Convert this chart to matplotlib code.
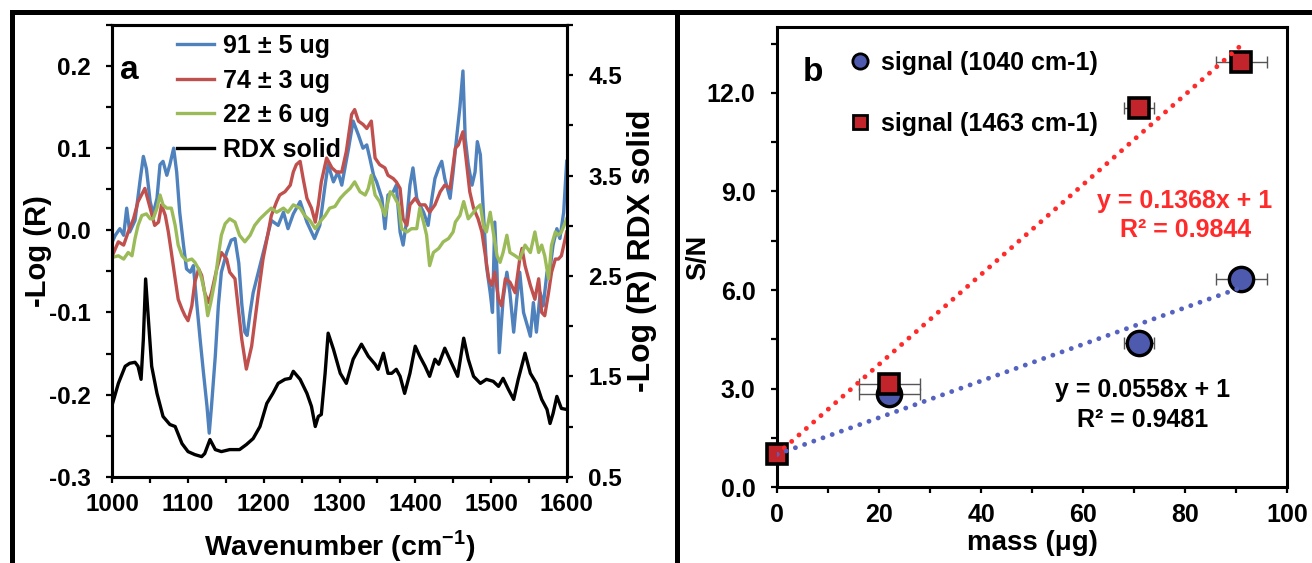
import matplotlib
matplotlib.use("Agg")
import matplotlib.pyplot as plt
import numpy as np
from matplotlib.lines import Line2D

plt.rcParams['font.family'] = ['Liberation Sans', 'DejaVu Sans']
plt.rcParams['font.weight'] = 'bold'
plt.rcParams['axes.unicode_minus'] = False
plt.rcParams['mathtext.fontset'] = 'custom'
plt.rcParams['mathtext.rm'] = 'Liberation Sans:bold'
plt.rcParams['mathtext.bf'] = 'Liberation Sans:bold'

# ---- panel a: spectra ----
BLUE_WN = [1000, 1004, 1010, 1015, 1019, 1023, 1030, 1037, 1041, 1045, 1050, 1054, 1059, 1063, 1067,
           1072, 1076, 1081, 1085, 1089, 1094, 1098, 1103, 1107, 1111, 1116, 1120, 1125, 1128, 1131,
           1136, 1140, 1144, 1151, 1157, 1162, 1167, 1171, 1175, 1178, 1182, 1186, 1195, 1204, 1210,
           1219, 1226, 1232, 1239, 1248, 1257, 1267, 1274, 1281, 1285, 1292, 1298, 1303, 1312, 1318,
           1325, 1331, 1336, 1340, 1345, 1349, 1356, 1360, 1364, 1371, 1375, 1380, 1384, 1389, 1393,
           1397, 1402, 1406, 1411, 1417, 1422, 1426, 1431, 1435, 1439, 1446, 1450, 1455, 1459, 1463,
           1466, 1470, 1475, 1479, 1482, 1486, 1490, 1494, 1499, 1502, 1505, 1508, 1511, 1516, 1521,
           1525, 1530, 1534, 1538, 1543, 1548, 1552, 1556, 1560, 1565, 1569, 1574, 1578, 1582, 1587,
           1591, 1596, 1600]
BLUE_V = [-0.014, -0.006, 0.002, -0.006, 0.027, -0.002, 0.012, 0.063, 0.090, 0.075, 0.035, 0.020, 0.039, 0.080, 0.084,
          0.067, 0.080, 0.100, 0.071, 0.022, -0.018, -0.047, -0.051, -0.043, -0.084, -0.133, -0.170, -0.214, -0.247, -0.214,
          -0.153, -0.092, -0.051, -0.027, -0.012, -0.010, -0.040, -0.090, -0.124, -0.128, -0.100, -0.076, -0.043, -0.010, 0.012,
          0.006, 0.022, 0.002, 0.020, 0.035, 0.010, -0.010, 0.006, 0.055, 0.080, 0.059, 0.071, 0.055, 0.100, 0.133,
          0.116, 0.100, 0.104, 0.088, 0.067, 0.059, 0.039, 0.002, 0.043, 0.047, 0.055, -0.002, -0.018, 0.014, 0.055,
          0.076, 0.039, 0.031, 0.022, 0.006, 0.039, 0.063, 0.076, 0.084, 0.063, 0.039, 0.071, 0.116, 0.150, 0.194,
          0.112, 0.080, 0.055, 0.071, 0.108, 0.092, 0.022, -0.043, -0.076, -0.100, 0.010, -0.051, -0.149, -0.084, -0.051,
          -0.076, -0.124, -0.084, -0.051, -0.100, -0.116, -0.129, -0.088, -0.124, -0.076, -0.092, -0.051, -0.047, -0.018, 0.002,
          -0.010, 0.022, 0.084]

RED_WN = [1000, 1008, 1015, 1021, 1028, 1034, 1043, 1050, 1056, 1061, 1065, 1070, 1074, 1078, 1083,
          1087, 1092, 1096, 1100, 1105, 1109, 1114, 1118, 1122, 1127, 1131, 1138, 1144, 1151, 1155,
          1162, 1166, 1171, 1177, 1184, 1188, 1193, 1199, 1206, 1210, 1217, 1221, 1228, 1235, 1239,
          1243, 1248, 1252, 1257, 1263, 1268, 1272, 1276, 1283, 1290, 1296, 1303, 1309, 1316, 1320,
          1325, 1331, 1336, 1342, 1347, 1353, 1360, 1364, 1371, 1375, 1380, 1384, 1389, 1393, 1400,
          1406, 1413, 1419, 1426, 1433, 1439, 1446, 1453, 1457, 1463, 1468, 1472, 1477, 1483, 1488,
          1492, 1497, 1501, 1505, 1510, 1514, 1519, 1525, 1532, 1538, 1541, 1545, 1552, 1558, 1563,
          1567, 1571, 1576, 1580, 1585, 1589, 1593, 1600]
RED_V = [-0.031, -0.014, -0.018, -0.002, 0.014, 0.035, 0.051, 0.027, 0.006, 0.010, 0.031, 0.018, -0.002, -0.027, -0.059,
         -0.084, -0.096, -0.104, -0.110, -0.092, -0.063, -0.047, -0.055, -0.076, -0.088, -0.076, -0.047, -0.027, -0.035, -0.051,
         -0.059, -0.092, -0.133, -0.169, -0.141, -0.112, -0.076, -0.035, -0.002, 0.018, 0.035, 0.043, 0.047, 0.055, 0.071,
         0.080, 0.084, 0.063, 0.039, 0.027, 0.010, 0.031, 0.059, 0.088, 0.076, 0.071, 0.071, 0.096, 0.141, 0.147,
         0.133, 0.129, 0.124, 0.133, 0.088, 0.080, 0.076, 0.067, 0.063, 0.059, 0.051, 0.014, 0.006, 0.031, 0.039,
         0.031, 0.031, 0.022, 0.031, 0.047, 0.055, 0.051, 0.100, 0.104, 0.120, 0.080, 0.047, 0.027, 0.014, -0.002,
         -0.027, -0.059, -0.067, -0.051, -0.084, -0.092, -0.059, -0.063, -0.076, -0.035, -0.022, -0.043, -0.067, -0.084, -0.059,
         -0.100, -0.104, -0.076, -0.051, -0.035, -0.035, -0.031, -0.002]

GREEN_WN = [1000, 1008, 1015, 1021, 1026, 1030, 1034, 1039, 1045, 1050, 1054, 1059, 1063, 1067, 1072,
            1078, 1083, 1087, 1092, 1098, 1105, 1109, 1114, 1118, 1122, 1126, 1130, 1136, 1140, 1144,
            1149, 1155, 1162, 1168, 1175, 1182, 1188, 1195, 1204, 1210, 1217, 1226, 1232, 1239, 1248,
            1254, 1261, 1268, 1274, 1281, 1287, 1294, 1301, 1307, 1314, 1320, 1327, 1334, 1338, 1342,
            1347, 1353, 1360, 1367, 1371, 1378, 1382, 1389, 1395, 1402, 1406, 1411, 1415, 1419, 1424,
            1431, 1437, 1444, 1450, 1453, 1459, 1464, 1470, 1477, 1481, 1486, 1490, 1494, 1499, 1503,
            1508, 1512, 1516, 1521, 1525, 1532, 1538, 1545, 1552, 1558, 1563, 1567, 1571, 1576, 1580,
            1585, 1589, 1593, 1600]
GREEN_V = [-0.033, -0.031, -0.035, -0.027, -0.031, -0.010, 0.006, 0.018, 0.020, 0.014, 0.014, 0.027, 0.043, 0.031, 0.027,
           0.027, 0.006, -0.018, -0.031, -0.037, -0.035, -0.039, -0.047, -0.059, -0.076, -0.104, -0.088, -0.059, -0.031, -0.006,
           0.008, 0.014, 0.010, -0.006, -0.014, -0.006, 0.006, 0.014, 0.022, 0.027, 0.022, 0.027, 0.022, 0.031, 0.027,
           0.018, 0.012, 0.002, 0.010, 0.018, 0.027, 0.029, 0.039, 0.045, 0.051, 0.059, 0.047, 0.043, 0.051, 0.067,
           0.043, 0.035, 0.018, 0.047, 0.043, 0.031, 0.002, -0.002, 0.002, 0.002, 0.027, 0.010, -0.006, -0.043, -0.027,
           -0.022, -0.014, -0.010, -0.002, 0.010, 0.018, 0.035, 0.014, 0.022, 0.027, 0.031, 0.006, -0.002, 0.022, -0.002,
           -0.031, -0.039, -0.027, -0.006, -0.027, -0.031, -0.035, -0.018, -0.027, -0.002, -0.027, -0.018, -0.031, -0.059, -0.018,
           -0.002, -0.006, -0.002, 0.014]

RDX_WN = [1000, 1008, 1017, 1023, 1030, 1034, 1038, 1041, 1044, 1048, 1052, 1059, 1067, 1076, 1083,
          1092, 1100, 1109, 1118, 1122, 1129, 1136, 1144, 1155, 1168, 1177, 1186, 1195, 1204, 1212,
          1219, 1228, 1235, 1239, 1248, 1257, 1263, 1268, 1272, 1276, 1281, 1285, 1292, 1301, 1309,
          1318, 1329, 1338, 1347, 1351, 1358, 1364, 1369, 1375, 1380, 1386, 1393, 1400, 1406, 1413,
          1419, 1426, 1431, 1439, 1448, 1456, 1464, 1470, 1477, 1486, 1494, 1503, 1510, 1516, 1523,
          1530, 1536, 1545, 1552, 1560, 1567, 1574, 1578, 1582, 1587, 1593, 1600]
RDX_V = [1.22, 1.43, 1.60, 1.63, 1.64, 1.60, 1.47, 1.87, 2.47, 2.03, 1.60, 1.33, 1.10, 1.02, 1.00,
         0.83, 0.75, 0.72, 0.70, 0.73, 0.87, 0.77, 0.75, 0.77, 0.77, 0.82, 0.88, 1.00, 1.23, 1.33,
         1.43, 1.47, 1.48, 1.55, 1.47, 1.33, 1.20, 1.00, 1.10, 1.12, 1.53, 1.93, 1.77, 1.53, 1.43,
         1.67, 1.82, 1.70, 1.62, 1.57, 1.73, 1.53, 1.53, 1.57, 1.50, 1.33, 1.53, 1.80, 1.70, 1.60,
         1.50, 1.67, 1.62, 1.78, 1.63, 1.50, 1.88, 1.67, 1.50, 1.43, 1.47, 1.45, 1.40, 1.48, 1.37,
         1.27, 1.47, 1.73, 1.53, 1.43, 1.27, 1.17, 1.03, 1.13, 1.30, 1.18, 1.17]

SPECTRA_LABELS = ['91 ± 5 ug', '74 ± 3 ug', '22 ± 6 ug', 'RDX solid']

A_XTICKS = list(range(1000, 1601, 50))
A_XLABELS = ['1000', '', '1100', '', '1200', '', '1300', '', '1400', '', '1500', '', '1600']
A_YTICKS = [-0.3, -0.25, -0.2, -0.15, -0.1, -0.05, 0.0, 0.05, 0.1, 0.15, 0.2, 0.25]
A_YLABELS = ['-0.3', '', '-0.2', '', '-0.1', '', '0.0', '', '0.1', '', '0.2', '']
A_RTICKS = [0.5, 1.0, 1.5, 2.0, 2.5, 3.0, 3.5, 4.0, 4.5, 5.0]
A_RLABELS = ['0.5', '', '1.5', '', '2.5', '', '3.5', '', '4.5', '']

# ---- panel b: S/N vs mass ----
MASS = [0, 22, 71, 91]
MASS_ERR = [0, 6, 3, 5]
SN_1040 = [1.0, 2.85, 4.38, 6.35]
SN_1463 = [1.0, 3.15, 11.55, 12.95]
FIT_1040 = (0.0558, 1.0)
FIT_1463 = (0.1368, 1.0)
FIT_RANGE = [0, 91]

B_XTICKS = list(range(0, 101, 10))
B_XLABELS = ['0', '', '20', '', '40', '', '60', '', '80', '', '100']
B_YTICKS = [0, 1.5, 3.0, 4.5, 6.0, 7.5, 9.0, 10.5, 12.0, 13.5]
B_YLABELS = ['0.0', '', '3.0', '', '6.0', '', '9.0', '', '12.0', '']

C_BLUE = '#4F81BD'
C_RED = '#C0504D'
C_GREEN = '#9BBB59'
C_CIRCLE = '#4D5AAE'
C_SQUARE = '#C2242B'
C_FIT_RED = '#FF2A2A'
C_FIT_BLUE = '#5562C0'

W, H = 1312, 563
fig = plt.figure(figsize=(W / 100, H / 100), dpi=100)


def style_axis(ax, xpad, ypad, size):
    for sp in ax.spines.values():
        sp.set_linewidth(2.2)
    ax.tick_params(axis='both', direction='out', length=4.5, width=1.6, labelsize=size)
    ax.tick_params(axis='x', pad=xpad)
    ax.tick_params(axis='y', pad=ypad)


# panel a
ax_a = fig.add_axes([112.3 / W, 1 - 476.7 / H, 454.4 / W, 451.7 / H])
ax_a.plot(BLUE_WN, BLUE_V, color=C_BLUE, lw=2.4)
ax_a.plot(RED_WN, RED_V, color=C_RED, lw=2.4)
ax_a.plot(GREEN_WN, GREEN_V, color=C_GREEN, lw=2.4)
ax_a.set_xlim(1000, 1600)
ax_a.set_ylim(-0.3, 0.25)
ax_a.set_xticks(A_XTICKS, A_XLABELS)
ax_a.set_yticks(A_YTICKS, A_YLABELS)
style_axis(ax_a, 7.5, 11, 17.5)

ax_r = ax_a.twinx()
ax_r.plot(RDX_WN, RDX_V, color='black', lw=2.4)
ax_r.set_ylim(0.5, 5.0)
ax_r.set_yticks(A_RTICKS, A_RLABELS)
style_axis(ax_r, 7.5, 11, 17.5)

handles = [Line2D([], [], color=c, lw=2.4) for c in (C_BLUE, C_RED, C_GREEN, 'black')]
ax_r.legend(handles, SPECTRA_LABELS, loc='upper left', bbox_to_anchor=(0.142, 0.98),
            frameon=False, borderpad=0, borderaxespad=0, handlelength=1.48,
            handletextpad=0.35, labelspacing=0.42, prop={'size': 18, 'weight': 'bold'})

ax_a.text(1023, 0.184, 'a', fontsize=24, ha='center', va='baseline')
ax_a.text(-0.1635, 0.5, '-Log (R)', transform=ax_a.transAxes, rotation=90,
          ha='center', va='center', fontsize=21)
ax_a.text(1.166, 0.5, '-Log (R) RDX solid', transform=ax_a.transAxes, rotation=90,
          ha='center', va='center', fontsize=23)
ax_a.text(0.5, -0.153, r'Wavenumber (cm$^{\mathbf{-1}}$)', transform=ax_a.transAxes,
          ha='center', va='center', fontsize=20.5)

# panel b
ax_b = fig.add_axes([777 / W, 1 - 487.2 / H, 510 / W, 460 / H])
ax_b.errorbar(MASS[1:], SN_1040[1:], xerr=MASS_ERR[1:], fmt='none', ecolor='#555555',
              elinewidth=1, capsize=4, capthick=1, zorder=2)
ax_b.errorbar(MASS[1:], SN_1463[1:], xerr=MASS_ERR[1:], fmt='none', ecolor='#555555',
              elinewidth=1, capsize=4, capthick=1, zorder=2)
# the 0 ug circle sits hidden behind the square in the reference
ax_b.plot(MASS[1:], SN_1040[1:], 'o', ms=17.5, mfc=C_CIRCLE, mec='black', mew=2.4, zorder=3,
          clip_on=False)
ax_b.plot(MASS, SN_1463, 's', ms=14.5, mfc=C_SQUARE, mec='black', mew=2.6, zorder=4,
          clip_on=False)

fx = np.array(FIT_RANGE, dtype=float)
ax_b.plot(fx, FIT_1463[0] * fx + FIT_1463[1], color=C_FIT_RED, lw=3.5,
          ls=(0, (0.01, 2.0)), dash_capstyle='round', zorder=5)
ax_b.plot(fx, FIT_1040[0] * fx + FIT_1040[1], color=C_FIT_BLUE, lw=3.5,
          ls=(0, (0.01, 2.0)), dash_capstyle='round', zorder=5)

ax_b.set_xlim(0, 100)
ax_b.set_ylim(0, 14)
ax_b.set_xticks(B_XTICKS, B_XLABELS)
ax_b.set_yticks(B_YTICKS, B_YLABELS)
style_axis(ax_b, 6.8, 11, 18)

leg_handles = [
    Line2D([], [], marker='o', ls='none', ms=11, mfc=C_CIRCLE, mec='black', mew=2),
    Line2D([], [], marker='s', ls='none', ms=9.5, mfc=C_SQUARE, mec='black', mew=2),
]
ax_b.legend(leg_handles, ['signal (1040 cm-1)', 'signal (1463 cm-1)'], loc='upper left',
            bbox_to_anchor=(0.138, 0.948), frameon=False, borderpad=0, borderaxespad=0,
            handlelength=1.0, handletextpad=0.35, labelspacing=1.46,
            prop={'size': 18, 'weight': 'bold'})

ax_b.text(7.06, 12.35, 'b', fontsize=24, ha='center', va='baseline')
ax_b.text(80.0, 8.5, 'y = 0.1368x + 1', color=C_FIT_RED, fontsize=18, ha='center', va='baseline')
ax_b.text(80.2, 7.6, 'R² = 0.9844', color=C_FIT_RED, fontsize=18, ha='center', va='baseline')
ax_b.text(71.7, 2.75, 'y = 0.0558x + 1', color='black', fontsize=18, ha='center', va='baseline')
ax_b.text(71.7, 1.84, 'R² = 0.9481', color='black', fontsize=18, ha='center', va='baseline')
ax_b.text(-0.155, 0.5, 'S/N', transform=ax_b.transAxes, rotation=90,
          ha='center', va='center', fontsize=19.5)
ax_b.text(0.5, -0.122, 'mass (μg)', transform=ax_b.transAxes,
          ha='center', va='center', fontsize=20)

# outer frame
fx0 = 12 / W
fy0 = 1 - 12 / H
fig.add_artist(Line2D([fx0, fx0], [0, fy0], transform=fig.transFigure, color='black',
                      lw=3.6, solid_capstyle='projecting'))
fig.add_artist(Line2D([fx0, 1], [fy0, fy0], transform=fig.transFigure, color='black',
                      lw=3.6, solid_capstyle='projecting'))
fig.add_artist(Line2D([676.7 / W, 676.7 / W], [0, fy0], transform=fig.transFigure,
                      color='black', lw=3.6, solid_capstyle='projecting'))

fig.savefig('out.png', dpi=100)
